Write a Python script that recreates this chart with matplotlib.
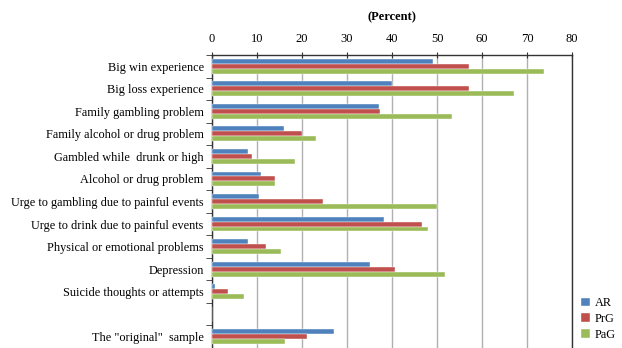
import matplotlib
matplotlib.use("Agg")
import matplotlib.pyplot as plt
import numpy as np

categories = ["Big win experience", "Big loss experience", "Family gambling problem",
              "Family alcohol or drug problem", "Gambled while  drunk or high",
              "Alcohol or drug problem", "Urge to gambling due to painful events",
              "Urge to drink due to painful events", "Physical or emotional problems",
              "Depression", "Suicide thoughts or attempts", "",
              "The \"original\"  sample"]
AR  = [49.1, 39.9, 37.2, 16.1, 8.0, 10.8, 10.4, 38.2, 8.0, 35.0, 0.7, 0, 27.2]
PrG = [57.2, 57.1, 37.4, 20.1, 8.8, 14.1, 24.7, 46.7, 11.9, 40.7, 3.6, 0, 21.1]
PaG = [73.7, 67.2, 53.4, 23.2, 18.5, 14.1, 50.0, 48.0, 15.3, 51.8, 7.2, 0, 16.3]
series_names = ["AR", "PrG", "PaG"]
colors = ["#4F81BD", "#C0504D", "#9BBB59"]

plt.rcParams['font.family'] = ['Liberation Serif', 'DejaVu Serif']

fig = plt.figure(figsize=(6.22, 3.48), dpi=100)
ax = fig.add_axes([212/622, 0.0, 360/622, 1 - 55/348])

n = len(categories)
y = np.arange(n)
h = 0.22
for i, (vals, c, name) in enumerate(zip([AR, PrG, PaG], colors, series_names)):
    ax.barh(y + (i - 1) * h, vals, height=h, color=c, label=name,
            edgecolor='white', linewidth=0.3, zorder=3)

ax.set_xlim(0, 80)
ax.set_ylim(n - 0.5, -0.5)
ax.xaxis.tick_top()
ax.set_xticks(np.arange(0, 81, 10))
ax.tick_params(axis='x', direction='inout', length=5, labelsize=9, pad=5, color='#333333')
ax.grid(axis='x', color='#b0b0b0', linewidth=1, zorder=0)
ax.set_title("(Percent)", fontsize=9, fontweight='bold', pad=9)

ax.set_yticks(y)
ax.set_yticklabels(categories, fontsize=8.8)
ax.tick_params(axis='y', which='major', length=0, pad=6)
ax.set_yticks(np.arange(-0.5, n, 1), minor=True)
ax.tick_params(axis='y', which='minor', length=4, direction='out', color='#333333')

for s in ['top', 'left', 'right']:
    ax.spines[s].set_color('#333333')
    ax.spines[s].set_linewidth(1)
ax.spines['bottom'].set_visible(False)

ax.legend(loc='lower left', bbox_to_anchor=(1.005, 0.0), frameon=False, fontsize=8.8,
          handlelength=0.7, handleheight=0.7, handletextpad=0.4, labelspacing=0.3,
          borderaxespad=0.2)

fig.savefig("out.png", dpi=100)
